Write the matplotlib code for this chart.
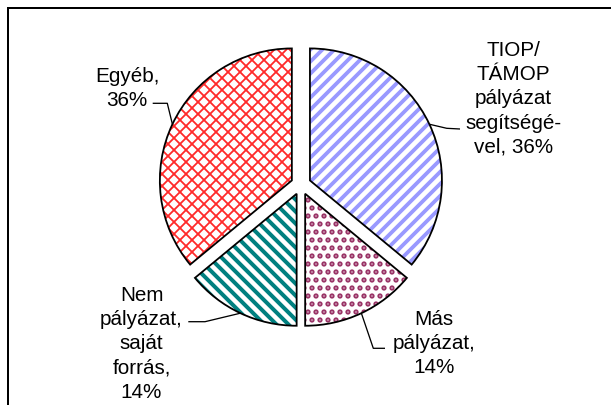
"""
Exploded pie chart: funding source of the purchases (Hungarian survey).

Rendered at 144 dpi so that the matplotlib hatch tiles (one inch wide)
come out at the same pitch as the Excel pattern fills in the original.
The axes cover the whole figure and use pixel units (y measured upwards).
"""

import matplotlib
matplotlib.use("Agg")
import matplotlib.pyplot as plt
from matplotlib.patches import Rectangle
import numpy as np

# Data
categories = [
    "TIOP/TÁMOP pályázat segítségével",
    "Más pályázat",
    "Nem pályázat, saját forrás",
    "Egyéb",
]
shares = [36, 14, 14, 36]
label_lines = [
    ["TIOP/", "TÁMOP", "pályázat", "segítségé-", "vel, {}%"],
    ["Más", "pályázat,", "{}%"],
    ["Nem", "pályázat,", "saját", "forrás,", "{}%"],
    ["Egyéb,", "{}%"],
]

# Style
W, H, DPI = 611, 405, 144
HATCH_COLOURS = ["#9999FF", "#993366", "#008080", "#FF2A2A"]
HATCHES = ["////", "...", "\\\\\\\\", "xxxx"]
HATCH_WIDTHS = [1.9, 1.8, 2.0, 0.9]
PIE_CENTER = (300.9, H - 184.7)
PIE_RADIUS = 132
EXPLODE = 10

# label layout: (centre x, first baseline y from top), leader (elbow, end)
LABEL_POS = [(513.5, 56.0), (434.0, 325.0), (141.5, 300.7), (127.0, 81.5)]
LEADERS = [
    [(446.7, 128.3), (460.0, 129.0)],
    [(373.3, 348.3), (385.0, 348.3)],
    [(205.0, 321.7), (188.3, 321.7)],
    [(167.3, 103.3), (152.7, 103.3)],
]
LINE_STEP = 24.2

plt.rcParams["font.family"] = ["Liberation Sans", "DejaVu Sans"]

fig = plt.figure(figsize=(W / DPI, H / DPI), dpi=DPI)
fig.patch.set_facecolor("white")
ax = fig.add_axes([0, 0, 1, 1])

# pattern layer (edge colour drives hatch colour)
fills, _ = ax.pie(
    shares, startangle=90, counterclock=False, center=PIE_CENTER,
    radius=PIE_RADIUS, explode=[EXPLODE] * len(shares),
    colors=["white"] * len(shares), hatch=HATCHES,
)
for w, c, lw in zip(fills, HATCH_COLOURS, HATCH_WIDTHS):
    w.set_edgecolor(c)
    w.set_linewidth(0)
    w.set_hatch_linewidth(lw)

# outline layer
outlines, _ = ax.pie(
    shares, startangle=90, counterclock=False, center=PIE_CENTER,
    radius=PIE_RADIUS, explode=[EXPLODE] * len(shares),
    wedgeprops=dict(fill=False, edgecolor="black", linewidth=0.9),
)

for w, val, lines, (lx, ly), leader in zip(outlines, shares, label_lines,
                                           LABEL_POS, LEADERS):
    # leader starts on the arc at the wedge's mid angle
    mid = np.deg2rad((w.theta1 + w.theta2) / 2)
    x0 = w.center[0] + w.r * np.cos(mid)
    y0 = w.center[1] + w.r * np.sin(mid)
    xs = [x0] + [p[0] for p in leader]
    ys = [y0] + [H - p[1] for p in leader]
    ax.plot(xs, ys, color="black", linewidth=0.65, solid_capstyle="butt")

    for i, line in enumerate(lines):
        ax.text(lx, H - (ly + i * LINE_STEP), line.format(val),
                ha="center", va="baseline", fontsize=10.3, color="black")

# chart area border (runs off the right and bottom of the crop)
ax.add_patch(Rectangle((7.5, -20), W + 40, H - 7.5 + 20, fill=False,
                       edgecolor="black", linewidth=1.0))

ax.set_xlim(0, W)
ax.set_ylim(0, H)
ax.set_aspect("auto")
ax.axis("off")

fig.savefig("out.png", dpi=DPI)
plt.close(fig)
